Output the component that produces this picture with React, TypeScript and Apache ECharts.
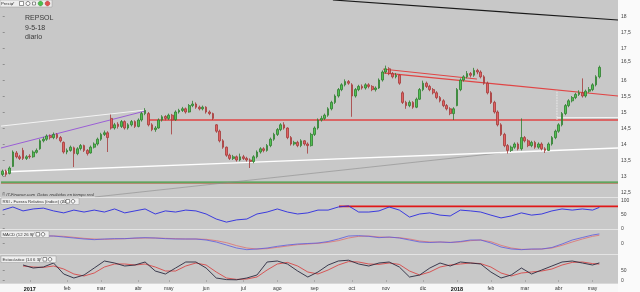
import React, { useEffect, useRef } from 'react';
import * as echarts from 'echarts';

// ---------- DATA ----------
const monthLabels = ['2017', 'feb', 'mar', 'abr', 'may', 'jun', 'jul', 'ago', 'sep', 'oct', 'nov', 'dic', '2018', 'feb', 'mar', 'abr', 'may'];
// candles (2 sessions each) per month, first entry = dic 2016
const monthLengths = [8, 11, 10, 11, 9, 11, 11, 10, 11, 11, 10, 11, 10, 10, 10, 10, 10, 3];
const emptySlots = 5;

// [open, close, low, high]
const ohlc: number[][] = [
  [13.05,13.15,13.0,13.2],[13.15,13.05,12.98,13.2],[13.08,13.25,13.05,13.3],[13.3,13.75,13.28,13.8],[13.72,13.6,13.55,13.78],
  [13.6,13.55,13.5,13.66],[13.8,13.55,13.5,13.88],[13.55,13.6,13.5,13.65],[13.62,13.6,13.54,13.68],[13.6,13.75,13.57,13.8],
  [13.74,13.8,13.7,13.86],[13.85,14.1,13.82,14.15],[14.1,14.15,14.05,14.22],[14.15,14.25,14.1,14.3],[14.26,14.2,14.14,14.3],
  [14.2,14.3,14.15,14.36],[14.3,14.2,14.15,14.34],[14.2,14.1,14.05,14.25],[14.05,13.75,13.7,14.08],[13.75,13.8,13.68,13.86],
  [13.8,13.9,13.76,13.95],[13.88,13.7,13.28,13.92],[13.7,13.85,13.65,13.9],[13.86,13.95,13.8,14.0],[13.95,13.8,13.75,13.98],
  [13.8,13.7,13.64,13.84],[13.72,13.9,13.7,13.95],[13.9,14.0,13.86,14.05],[14.0,14.15,13.95,14.2],[14.15,14.3,14.1,14.35],
  [14.3,14.35,14.25,14.42],[14.35,14.2,13.75,14.4],[14.8,14.5,14.45,14.92],[14.5,14.6,14.45,14.66],[14.62,14.55,14.48,14.68],
  [14.55,14.7,14.5,14.75],[14.7,14.5,14.45,14.74],[14.5,14.6,14.45,14.65],[14.6,14.7,14.55,14.75],[14.7,14.55,14.5,14.74],
  [14.55,14.75,14.52,14.8],[14.75,14.95,14.7,15.0],[14.95,15.05,14.9,15.12],[14.95,14.6,14.55,15.0],[14.6,14.45,14.4,14.65],
  [14.45,14.5,14.38,14.56],[14.5,14.75,14.48,14.8],[14.75,14.85,14.7,14.9],[14.86,14.8,14.74,14.9],[14.8,14.9,14.75,14.95],
  [14.9,14.75,14.3,14.94],[14.76,15.0,14.72,15.05],[15.0,15.05,14.95,15.1],[15.05,15.1,15.0,15.16],[15.1,15.0,14.95,15.14],
  [15.0,15.2,14.98,15.25],[15.2,15.25,15.15,15.35],[15.25,15.15,15.1,15.3],[15.15,15.1,15.05,15.2],[15.1,15.15,15.05,15.2],
  [15.15,15.0,14.95,15.18],[15.0,14.95,14.9,15.05],[14.95,14.8,14.75,14.98],[14.6,14.4,14.35,14.62],[14.4,14.1,14.05,14.45],
  [14.1,13.9,13.85,14.15],[13.9,13.65,13.6,13.92],[13.65,13.55,13.5,13.7],[13.55,13.6,13.5,13.66],[13.6,13.5,13.45,13.64],
  [13.5,13.6,13.46,13.7],[13.6,13.55,13.5,13.66],[13.55,13.5,13.45,13.6],[13.5,13.45,13.25,13.55],[13.45,13.6,13.4,13.65],
  [13.6,13.75,13.55,13.8],[13.75,13.85,13.7,13.9],[13.85,13.8,13.74,13.9],[13.8,13.95,13.76,14.0],[13.95,14.15,13.9,14.2],
  [14.15,14.3,14.1,14.35],[14.3,14.45,14.25,14.5],[14.45,14.6,14.4,14.65],[14.6,14.5,14.45,14.68],[14.5,14.2,14.15,14.52],
  [14.2,14.0,13.95,14.25],[14.0,14.05,13.95,14.1],[14.05,13.95,13.9,14.1],[13.95,14.1,13.9,14.15],[14.1,14.0,13.95,14.12],
  [14.0,13.95,13.7,14.05],[13.95,14.3,13.92,14.35],[14.3,14.5,14.25,14.55],[14.5,14.75,14.45,14.8],[14.75,14.8,14.7,14.88],
  [14.8,14.9,14.75,14.95],[14.9,15.1,14.85,15.15],[15.1,15.3,15.05,15.35],[15.3,15.5,15.25,15.55],[15.5,15.7,15.45,15.75],
  [15.7,15.85,15.65,15.9],[15.85,15.95,15.8,16.02],[15.95,15.9,15.85,16.0],[15.85,15.5,14.85,15.9],[15.5,15.7,15.45,15.75],
  [15.7,15.8,15.65,15.85],[15.8,15.75,15.7,15.86],[15.75,15.85,15.7,15.9],[15.85,15.8,15.74,15.9],[15.8,15.7,15.65,15.84],
  [15.7,15.75,15.64,15.8],[15.75,16.0,15.72,16.05],[16.0,16.25,15.95,16.3],[16.25,16.35,16.2,16.45],[16.35,16.2,16.15,16.4],
  [16.2,16.1,16.05,16.25],[16.1,16.15,16.05,16.22],[16.15,15.9,15.85,16.18],[15.6,15.3,15.25,15.65],[15.3,15.2,15.1,15.35],
  [15.2,15.3,15.15,15.36],[15.3,15.15,15.1,15.34],[15.15,15.4,15.12,15.45],[15.4,15.7,15.38,15.75],[15.7,15.9,15.65,15.98],
  [15.9,15.8,15.75,15.95],[15.8,15.7,15.65,15.85],[15.7,15.6,15.55,15.75],[15.6,15.45,15.4,15.65],[15.45,15.35,15.3,15.5],
  [15.35,15.2,15.15,15.4],[15.2,15.1,15.05,15.25],[15.1,14.95,14.9,15.15],[14.95,15.1,14.75,15.15],[15.2,15.7,15.18,15.75],
  [15.7,16.0,15.65,16.05],[16.0,16.1,15.95,16.15],[16.1,16.2,16.05,16.28],[16.2,16.15,16.08,16.25],[16.15,16.3,16.1,16.38],
  [16.3,16.25,16.18,16.35],[16.25,16.1,16.05,16.3],[16.1,15.9,15.85,16.15],[15.9,15.6,15.55,15.95],[15.6,15.3,15.25,15.65],
  [15.3,15.0,14.95,15.35],[15.0,14.6,14.55,15.05],[14.6,14.3,14.25,14.65],[14.3,13.95,13.9,14.35],[13.95,13.8,13.7,14.0],
  [13.8,13.9,13.75,13.95],[13.9,14.0,13.85,14.05],[14.0,13.85,13.8,14.05],[13.85,14.2,13.8,14.8],[14.2,14.1,14.05,14.25],
  [14.1,13.95,13.9,14.15],[13.95,14.05,13.9,14.1],[14.05,13.9,13.85,14.1],[13.9,14.0,13.85,14.05],[14.0,13.85,13.8,14.05],
  [13.85,13.8,13.72,13.9],[13.8,14.0,13.78,14.05],[14.0,14.2,13.95,14.25],[14.2,14.4,14.15,14.45],[14.4,14.6,14.35,14.65],
  [14.6,14.95,14.55,15.0],[14.95,15.2,14.9,15.25],[15.2,15.35,15.15,15.4],[15.35,15.45,15.3,15.5],[15.45,15.55,15.4,15.6],
  [15.55,15.6,15.5,15.68],[15.6,15.5,15.45,16.05],[15.5,15.65,15.45,15.7],[15.65,15.7,15.6,15.78],[15.7,15.85,15.65,15.9],
  [15.85,16.1,15.8,16.15],[16.1,16.395,16.05,16.45]
];

// indicators sampled every 3 candles, last value = last candle
const indicatorStep = 3;
const rsi = [64,75,61,68,71,61,54,64,57,64,57,68,54,61,68,50,61,57,64,61,50,32,21,29,32,50,57,68,57,50,54,64,64,75,79,57,57,61,75,64,39,50,54,46,43,64,61,57,46,36,43,54,46,50,61,68,64,68,64,73.516];
const macd = [0.24,0.24,0.22,0.24,0.21,0.21,0.18,0.15,0.12,0.1,0.12,0.13,0.13,0.15,0.16,0.15,0.13,0.12,0.12,0.12,0.09,0.03,-0.06,-0.15,-0.2,-0.18,-0.15,-0.1,-0.06,-0.03,-0.015,0,0.045,0.12,0.21,0.22,0.2,0.16,0.18,0.15,0.09,0.03,0.015,0.03,0.015,0.045,0.09,0.09,0,-0.12,-0.18,-0.2,-0.18,-0.18,-0.135,-0.03,0.09,0.165,0.24,0.2715];
const macdSignal = [0.22,0.23,0.23,0.23,0.22,0.21,0.2,0.17,0.14,0.12,0.11,0.12,0.13,0.14,0.15,0.15,0.14,0.13,0.12,0.12,0.11,0.07,0.01,-0.08,-0.15,-0.18,-0.17,-0.13,-0.09,-0.05,-0.03,-0.01,0.02,0.07,0.15,0.2,0.21,0.18,0.17,0.16,0.12,0.06,0.03,0.03,0.02,0.03,0.07,0.09,0.04,-0.07,-0.15,-0.19,-0.19,-0.18,-0.15,-0.07,0.03,0.12,0.2,0.232];
const stochK = [null,null,75,60,65,85,30,10,25,60,95,85,70,75,90,45,30,60,90,90,60,10,2,1,10,25,90,95,80,45,15,40,75,95,99,80,70,85,90,65,15,25,60,85,70,90,85,80,40,10,25,60,30,50,70,90,95,85,75,85.452];
const stochD = [null,null,70,65,63,70,55,30,20,35,65,80,80,75,80,65,45,45,70,85,75,40,10,3,5,15,50,80,88,70,40,30,50,75,92,90,80,78,85,78,45,25,40,65,75,80,85,82,65,35,20,35,40,45,55,75,88,90,82,79.618];

// trend lines, [candle index, price]
const blackLine = [[97.4, 18.5], [181.5, 17.875]];
const redTopLine = [[112.2, 16.34], [139.9, 16.03]];
const redLowerLine = [[112.2, 16.22], [181.5, 15.5]];
const redLevel = [[42.9, 14.75], [181.5, 14.75]];
const whiteShort = [[163.5, 14.82], [181.5, 14.83]];
const whiteVertical = [[163.5, 14.75], [163.5, 15.69]];
const whiteUpper = [[-0.5, 14.56], [42, 15.06]];
const purpleLine = [[-0.5, 13.875], [42, 15.03]];
const whiteLower = [[-0.5, 13.125], [181.5, 13.875]];
const grayLine = [[27.2, 12.344], [146.7, 13.72]];
const greenLevel = [[-0.5, 12.81], [181.5, 12.81]];
const brownLevel = [[-0.5, 12.765], [181.5, 12.765]];
const rsiLevel = [[99.2, 77], [181.5, 77]];

const priceTicks = [12.5, 13, 13.5, 14, 14.5, 15, 15.5, 16, 16.5, 17, 17.5, 18];
const rsiTicks = [0, 50, 100];
const macdTicks = [0];
const stochTicks = [0, 50];

// ---------- BUILD ----------
const FONT = 'Liberation Sans';
const nCat = monthLengths.reduce((a, b) => a + b, 0) + emptySlots;
const categories = Array.from({ length: nCat }, (_, i) => String(i));
const monthStarts: number[] = [];
{
  let acc = 0;
  monthLengths.forEach((len) => { monthStarts.push(acc); acc += len; });
}
const labelIdx = monthStarts.slice(1);
const xMin = -0.5;
const xMax = nCat - 0.5;
const lastI = ohlc.length - 1;
const lastClose = ohlc[lastI][1];
const idxOf = (k: number, arr: any[]) => (k === arr.length - 1 ? lastI : k * indicatorStep);
const toPairs = (arr: (number | null)[]) =>
  arr.map((v, k) => [idxOf(k, arr), v]).filter((p) => p[1] !== null);
const fmt = (v: number) => String(v).replace('.', ',');

const lineSeries = (data: number[][], xi: number, yi: number, color: string, width: number, type: any = 'solid', z = 3) => ({
  type: 'line', xAxisIndex: xi, yAxisIndex: yi, data, symbol: 'none', silent: true, z,
  lineStyle: { color, width, type }, animation: false,
});

const valueMark = (value: number, text: string, bg: string, fg: string, border?: string) => ({
  symbol: 'none', silent: true, animation: false,
  lineStyle: { opacity: 0 },
  data: [{ yAxis: value }],
  label: {
    show: true, position: 'end', distance: 2, formatter: text,
    backgroundColor: bg, color: fg, fontSize: 5, fontFamily: FONT,
    padding: [0.5, 2], borderColor: border || bg, borderWidth: border ? 0.5 : 0,
  },
});

const hiddenX = (grid: number) => ({ type: 'value', gridIndex: grid, min: xMin, max: xMax, show: false });

const yAx = (grid: number, min: number, max: number, ticks: number[], fmtFn?: (v: number) => string, rich?: any) => ({
  type: 'value', gridIndex: grid, min, max, position: 'right', scale: true,
  splitLine: { show: false }, axisLine: { show: false },
  axisTick: { show: true, length: 2, customValues: ticks, lineStyle: { color: '#666', width: 0.6 } },
  axisLabel: { show: true, customValues: ticks, margin: 3, fontSize: 5, color: '#444', fontFamily: FONT,
    formatter: fmtFn || ((v: number) => fmt(v)), rich },
});

// the tick label next to the last price is nudged up so the price badge does not hide it
const priceLabel = (v: number) =>
  Math.abs(v - lastClose) < 0.25 ? `{up|${fmt(v)}}` : fmt(v);

const gridBase = { left: 1, right: 22, outerBoundsMode: 'none', containLabel: false, show: false };

const smallIcons = (x0: number, y: number) => [
  { type: 'rect', shape: { x: x0, y: y - 1.8, width: 3.6, height: 3.6 }, style: { fill: '#fff', stroke: '#333', lineWidth: 0.5 }, z: 102 },
  { type: 'circle', shape: { cx: x0 + 7, cy: y, r: 1.8 }, style: { fill: '#fff', stroke: '#333', lineWidth: 0.6 }, z: 102 },
];

const titleBox = (x: number, y: number, w: number, text: string, iconX: number) => [
  { type: 'rect', shape: { x, y, width: w, height: 6.5 }, style: { fill: '#eeeeee', stroke: '#9a9a9a', lineWidth: 0.5 }, z: 100 },
  { type: 'text', x: x + 1.5, y: y + 3.5, style: { text, fontSize: 4.3, fill: '#333', fontFamily: FONT, verticalAlign: 'middle' }, z: 101 },
  { type: 'line', shape: { x1: iconX - 4, y1: y + 5, x2: iconX - 1.5, y2: y + 1.5 }, style: { stroke: '#555', lineWidth: 0.6 }, z: 102 },
  ...smallIcons(iconX, y + 3.3),
];

const option: any = {
  animation: false,
  textStyle: { fontFamily: FONT },
  grid: [
    { ...gridBase, top: 0, height: 197 },
    { ...gridBase, top: 198, height: 31 },
    { ...gridBase, top: 229, height: 25 },
    { ...gridBase, top: 254, height: 29 },
  ],
  xAxis: [
    { type: 'category', gridIndex: 0, data: categories, boundaryGap: true, show: false },
    hiddenX(0),
    hiddenX(1),
    hiddenX(2),
    {
      type: 'value', gridIndex: 3, min: xMin, max: xMax, position: 'bottom',
      splitLine: { show: false }, axisLine: { show: false },
      axisTick: { show: true, length: 2, customValues: labelIdx, lineStyle: { color: '#888', width: 0.5 } },
      axisLabel: {
        show: true, customValues: labelIdx, margin: 2.5, fontSize: 5, color: '#333', fontFamily: FONT,
        formatter: (v: number) => {
          const t = monthLabels[labelIdx.indexOf(Math.round(v))] || '';
          return /^\d{4}$/.test(t) ? `{b|${t}}` : t;
        },
        rich: { b: { fontWeight: 'bold', fontSize: 5.5, color: '#111', fontFamily: FONT } },
      },
    },
  ],
  yAxis: [
    yAx(0, 12.34375, 18.5, priceTicks, priceLabel, { up: { fontSize: 5, color: '#444', fontFamily: FONT, padding: [0, 0, 6, 0] } }),
    yAx(1, -3.57, 107.14, rsiTicks, (v: number) => String(v)),
    yAx(2, -0.33, 0.42, macdTicks, (v: number) => String(v)),
    yAx(3, -15, 130, stochTicks, (v: number) => String(v)),
  ],
  graphic: [
    { type: 'rect', shape: { x: 0, y: 0, width: 618, height: 283 }, style: { fill: '#c8c8c8' }, z: -5, silent: true },
    { type: 'rect', shape: { x: 618, y: 0, width: 22, height: 292 }, style: { fill: '#fafafa' }, z: -5, silent: true },
    { type: 'rect', shape: { x: 0, y: 283, width: 618, height: 9 }, style: { fill: '#f7f7f7' }, z: -5, silent: true },
    { type: 'line', shape: { x1: 0, y1: 197.5, x2: 618, y2: 197.5 }, style: { stroke: '#e4e4e4', lineWidth: 1 }, z: -4, silent: true },
    { type: 'line', shape: { x1: 0, y1: 229.5, x2: 618, y2: 229.5 }, style: { stroke: '#e4e4e4', lineWidth: 1 }, z: -4, silent: true },
    { type: 'line', shape: { x1: 0, y1: 254.5, x2: 618, y2: 254.5 }, style: { stroke: '#e4e4e4', lineWidth: 1 }, z: -4, silent: true },
    { type: 'line', shape: { x1: 0, y1: 283.5, x2: 618, y2: 283.5 }, style: { stroke: '#d8d8d8', lineWidth: 1 }, z: -4, silent: true },
    // Precio toolbar
    { type: 'rect', shape: { x: 0, y: 0, width: 52, height: 7 }, style: { fill: '#eeeeee', stroke: '#9a9a9a', lineWidth: 0.5 }, z: 100 },
    { type: 'text', x: 1, y: 3.8, style: { text: 'Precio', fontSize: 4.3, fill: '#333', fontFamily: FONT, verticalAlign: 'middle' }, z: 101 },
    { type: 'line', shape: { x1: 11.5, y1: 5.5, x2: 14, y2: 2 }, style: { stroke: '#555', lineWidth: 0.6 }, z: 102 },
    { type: 'rect', shape: { x: 19.5, y: 1.5, width: 4, height: 4 }, style: { fill: '#fff', stroke: '#333', lineWidth: 0.5 }, z: 102 },
    { type: 'circle', shape: { cx: 28, cy: 3.5, r: 2 }, style: { fill: '#fff', stroke: '#333', lineWidth: 0.6 }, z: 102 },
    { type: 'rect', shape: { x: 32.5, y: 2, width: 3, height: 3 }, style: { fill: '#fff', stroke: '#333', lineWidth: 0.5 }, z: 102 },
    { type: 'circle', shape: { cx: 40.5, cy: 3.5, r: 2.4 }, style: { fill: '#4cbf4c', stroke: '#2a7a2a', lineWidth: 0.4 }, z: 102 },
    { type: 'circle', shape: { cx: 47.5, cy: 3.5, r: 2.4 }, style: { fill: '#e05050', stroke: '#902a2a', lineWidth: 0.4 }, z: 102 },
    // Ticker text
    { type: 'text', x: 25, y: 17, style: { text: 'REPSOL', fontSize: 7, fill: '#3a3a3a', fontFamily: FONT, verticalAlign: 'middle' }, z: 101 },
    { type: 'text', x: 25, y: 27, style: { text: '9-5-18', fontSize: 7, fill: '#3a3a3a', fontFamily: FONT, verticalAlign: 'middle' }, z: 101 },
    { type: 'text', x: 25, y: 36.5, style: { text: 'diario', fontSize: 7, fill: '#3a3a3a', fontFamily: FONT, verticalAlign: 'middle' }, z: 101 },
    { type: 'text', x: 2, y: 194.5, style: { text: '© IT-Finance.com  Datos recibidos en tiempo real', fontSize: 4.2, fontStyle: 'italic', fill: '#333', fontFamily: FONT, verticalAlign: 'middle' }, z: 101 },
    ...titleBox(1, 198, 78, 'RSI - Fuerza Relativa (índice) (14)', 66),
    ...titleBox(1, 231, 48, 'MACD (12 26 9)', 36),
    ...titleBox(1, 256, 55, 'Estocástico (14 6 3)', 43),
  ],
  series: [
    lineSeries(greenLevel, 1, 0, '#3d9a3d', 1.4),
    lineSeries(brownLevel, 1, 0, '#b48a72', 1.2),
    lineSeries(grayLine, 1, 0, '#8c8c8c', 0.6),
    lineSeries(whiteLower, 1, 0, '#ffffff', 1.4),
    lineSeries(whiteUpper, 1, 0, '#f4f4f4', 1),
    lineSeries(purpleLine, 1, 0, '#9b5fd6', 1),
    lineSeries(redLevel, 1, 0, '#e04545', 1.3),
    lineSeries(whiteShort, 1, 0, '#f4f4f4', 1),
    lineSeries(whiteVertical, 1, 0, '#ffffff', 0.8, 'dotted'),
    lineSeries(redTopLine, 1, 0, '#e04545', 1),
    lineSeries(redLowerLine, 1, 0, '#e04545', 1.2),
    lineSeries(blackLine, 1, 0, '#1a1a1a', 1.2),
    {
      type: 'candlestick', xAxisIndex: 0, yAxisIndex: 0, data: ohlc, barWidth: 2.2, z: 4, silent: true,
      itemStyle: { color: '#52c152', color0: '#e06262', borderColor: '#2e7d2e', borderColor0: '#a53838', borderWidth: 0.8 },
      markLine: valueMark(lastClose, fmt(lastClose), '#f2d40c', '#444'),
    },
    lineSeries(rsiLevel, 2, 1, '#e01818', 1.8),
    {
      ...lineSeries(toPairs(rsi) as number[][], 2, 1, '#2a2ae0', 0.9),
      markLine: valueMark(rsi[rsi.length - 1], fmt(rsi[rsi.length - 1]), '#aab2f2', '#2a2a9a'),
    },
    {
      ...lineSeries(toPairs(macdSignal) as number[][], 3, 2, '#e07070', 0.8),
    },
    {
      ...lineSeries(toPairs(macd) as number[][], 3, 2, '#5a5ae0', 0.8),
      markLine: valueMark(macd[macd.length - 1], fmt(macd[macd.length - 1]), '#f2c4c4', '#b03030'),
    },
    {
      ...lineSeries(toPairs(stochD) as number[][], 4, 3, '#d84848', 0.9),
      markLine: valueMark(stochD[stochD.length - 1] as number, fmt(stochD[stochD.length - 1] as number), '#f2c4c4', '#b03030'),
    },
    {
      ...lineSeries(toPairs(stochK) as number[][], 4, 3, '#2a2a40', 0.9),
      markLine: valueMark(stochK[stochK.length - 1] as number, fmt(stochK[stochK.length - 1] as number), '#eeeeee', '#222', '#555'),
    },
  ],
};

export default function App() {
  const ref = useRef<HTMLDivElement>(null);
  useEffect(() => {
    if (!ref.current) return;
    const chart = echarts.init(ref.current, null, { renderer: 'svg', width: 640, height: 292 });
    chart.setOption(option);
    return () => chart.dispose();
  }, []);
  return <div ref={ref} style={{ position: 'fixed', left: 0, top: 0, width: 640, height: 292 }} />;
}
